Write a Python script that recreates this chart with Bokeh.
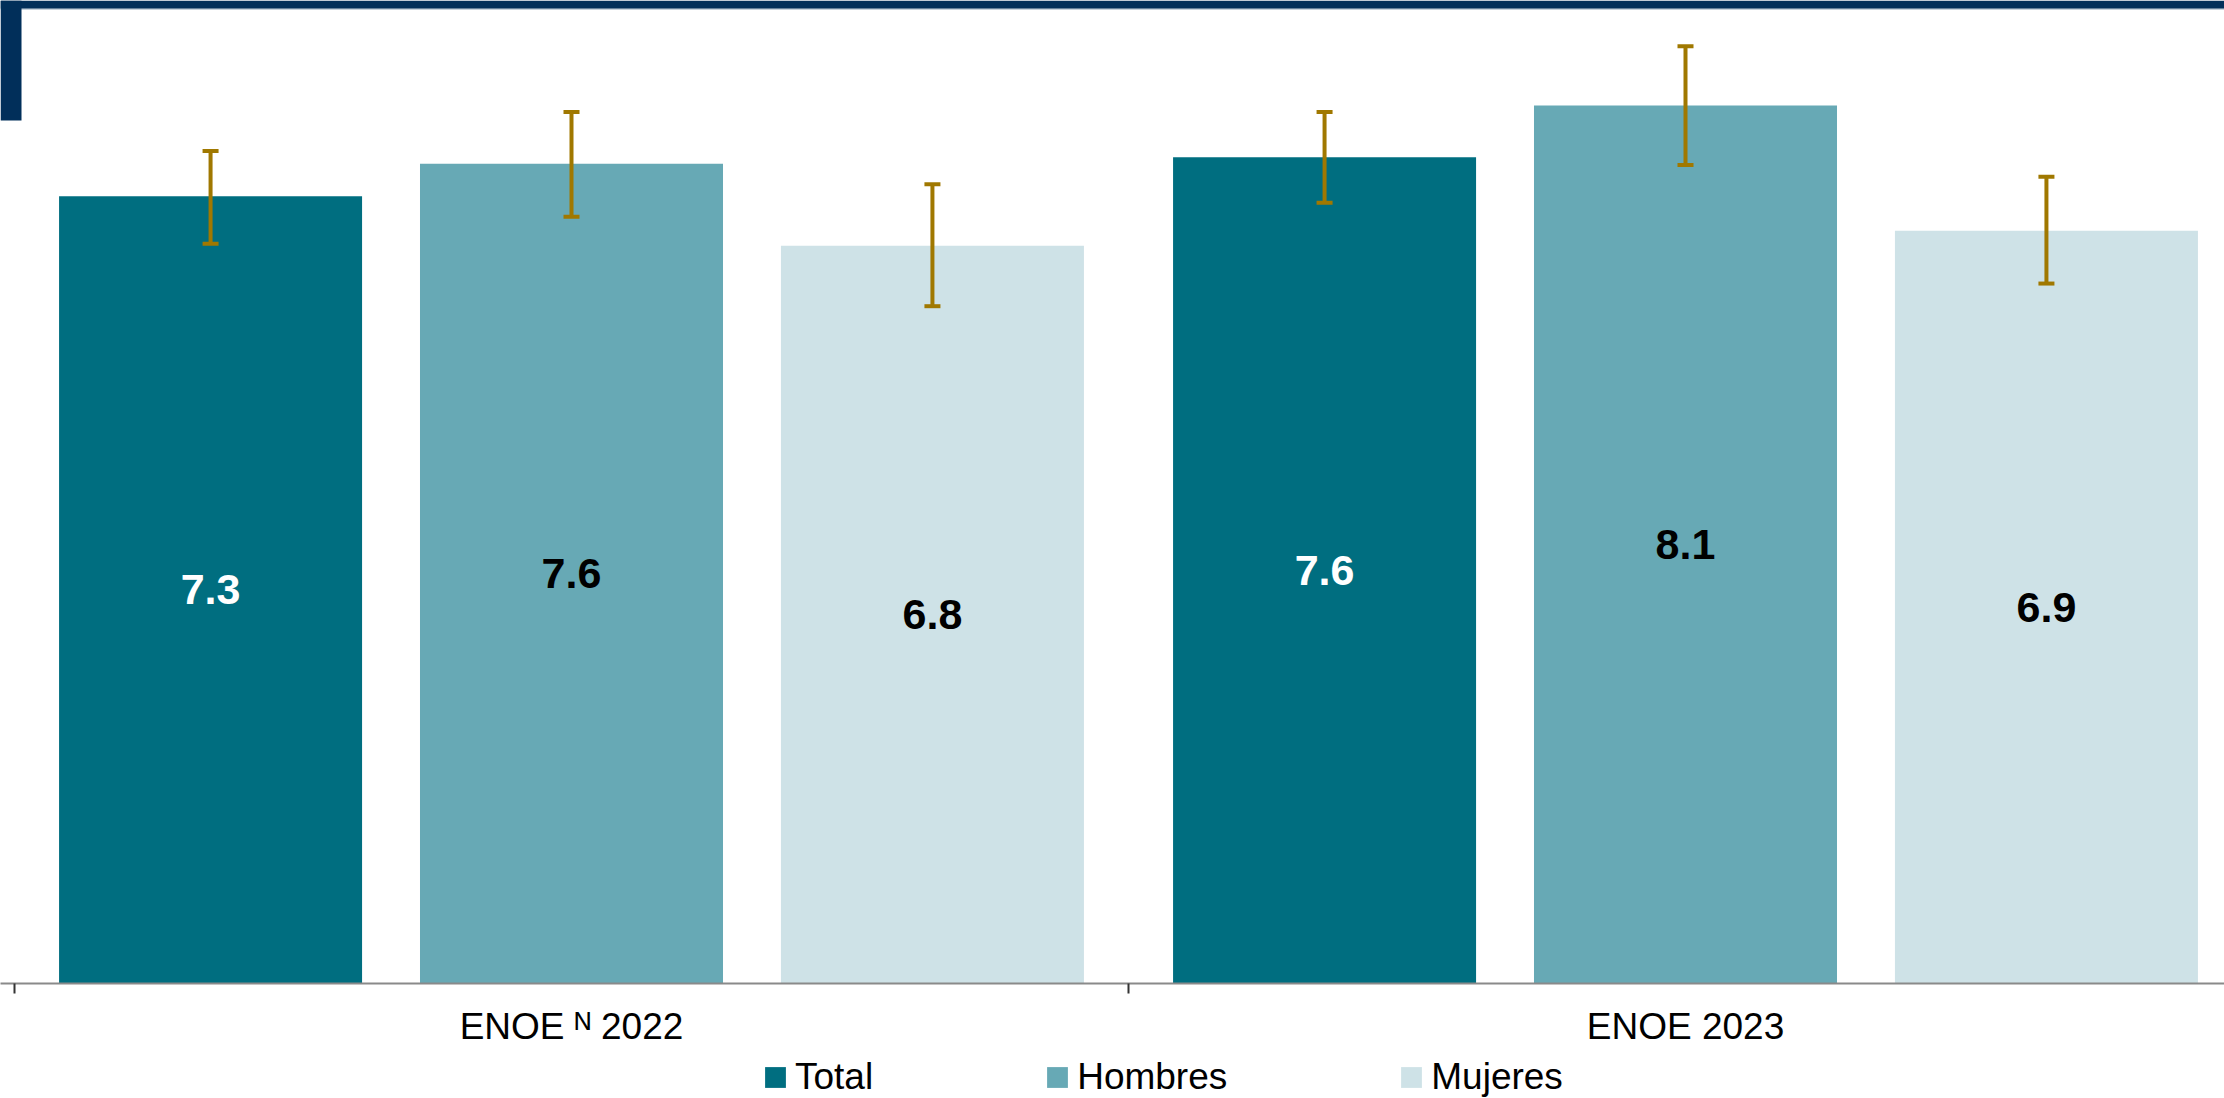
import numpy as np
from bokeh.plotting import figure
from bokeh.layouts import column
from bokeh.models import (ColumnDataSource, FixedTicker, Whisker, TeeHead, Legend,
                          LegendItem, BoxAnnotation, Range1d)
from bokeh.core.properties import value
from bokeh.embed import file_html
from bokeh.resources import INLINE

# ---- data ----
groups = ["ENOE ᴺ 2022", "ENOE 2023"]
series = ["Total", "Hombres", "Mujeres"]
total = [7.30, 7.66]
hombres = [7.60, 8.14]
mujeres = [6.84, 6.98]
total_labels = ["7.3", "7.6"]
hombres_labels = ["7.6", "8.1"]
mujeres_labels = ["6.8", "6.9"]
total_lo = [6.86, 7.24]
total_hi = [7.72, 8.08]
hombres_lo = [7.11, 7.59]
hombres_hi = [8.08, 8.69]
mujeres_lo = [6.28, 6.49]
mujeres_hi = [7.41, 7.48]

colors = ["#006E80", "#67A9B5", "#CEE2E7"]
label_colors = ["white", "black", "black"]
err_color = "#A07800"
navy = "#012F5A"

W, H = 2224, 1098
frame_bottom = 983
axis_panel = 66       # room for the category labels under the axis
H1 = frame_bottom + axis_panel   # main chart height; legend strip below
axis_x0 = 14          # pixel where the category axis starts
unit_px_x = 1114.0
unit_px_y = 107.85

p = figure(width=W, height=H1, output_backend="svg", toolbar_location=None,
           y_axis_location=None,
           x_range=Range1d(-axis_x0 / unit_px_x, (W - axis_x0) / unit_px_x),
           y_range=Range1d(0, frame_bottom / unit_px_y),
           min_border_left=0, min_border_right=0, min_border_top=0,
           min_border_bottom=axis_panel)
p.outline_line_color = None
p.xgrid.visible = False
p.ygrid.visible = False
p.background_fill_color = "white"
p.border_fill_color = "white"

idx = np.arange(len(groups)) + 0.5
offsets = [-0.324, 0.0, 0.324]
bar_w = 0.272

vals = [total, hombres, mujeres]
labs = [total_labels, hombres_labels, mujeres_labels]
los = [total_lo, hombres_lo, mujeres_lo]
his = [total_hi, hombres_hi, mujeres_hi]

sources = []
for s, v, lb, lo, hi, c, lc, off in zip(series, vals, labs, los, his, colors,
                                        label_colors, offsets):
    src = ColumnDataSource(dict(x=idx + off, top=v, mid=np.array(v) / 2.0,
                                lo=lo, hi=hi, lab=lb))
    sources.append(src)
    p.vbar(x="x", top="top", width=bar_w, source=src, fill_color=c, line_color=None)
    p.text(x="x", y="mid", text="lab", source=src, text_color=lc,
           text_font=value("Liberation Sans"), text_font_style="bold",
           text_font_size="43px", text_align="center", text_baseline="middle")
    w = Whisker(source=src, base="x", lower="lo", upper="hi", dimension="height",
                line_color=err_color, line_width=4, level="annotation",
                upper_head=TeeHead(size=16, line_color=err_color, line_width=4),
                lower_head=TeeHead(size=16, line_color=err_color, line_width=4))
    p.add_layout(w)

# x axis
ax = p.xaxis[0]
ax.ticker = FixedTicker(ticks=list(idx), minor_ticks=list(np.arange(len(groups) + 1)))
ax.major_label_overrides = {float(t): g for t, g in zip(idx, groups)}
ax.major_tick_out = 0
ax.major_tick_in = 0
ax.minor_tick_out = 10
ax.minor_tick_in = 0
ax.minor_tick_line_color = "#333333"
ax.minor_tick_line_width = 2
ax.axis_line_color = "#8A8A8A"
ax.axis_line_width = 2
ax.major_label_text_font = "Liberation Sans"
ax.major_label_text_font_size = "37px"
ax.major_label_text_color = "black"
ax.major_label_standoff = 12

# decorative navy frame pieces (screen units relative to frame)
def screen_box(left, right, bottom, top, color):
    return BoxAnnotation(left=left, right=right, bottom=bottom, top=top,
                         left_units="screen", right_units="screen",
                         top_units="screen", bottom_units="screen",
                         fill_color=color, fill_alpha=1, line_color=None)

p.add_layout(screen_box(0, W, frame_bottom - 9, frame_bottom - 8, "#8CA3B8"))
p.add_layout(screen_box(0, W, frame_bottom - 8, frame_bottom, navy))
p.add_layout(screen_box(0, 21, frame_bottom - 120, frame_bottom, navy))

# ---- legend strip ----
p2 = figure(width=W, height=H - H1, output_backend="svg", toolbar_location=None,
            x_axis_location=None, y_axis_location=None,
            x_range=Range1d(0, 1), y_range=Range1d(0, 1),
            min_border_left=0, min_border_right=0, min_border_top=0, min_border_bottom=0)
p2.outline_line_color = None
p2.xgrid.visible = False
p2.ygrid.visible = False
items = []
for s, c, src in zip(series, colors, sources):
    r = p2.vbar(x="x", top="top", width=bar_w, source=src, fill_color=c,
                line_color=None, visible=False)
    items.append(LegendItem(label=s, renderers=[r]))
legend = Legend(items=items, orientation="horizontal", location=(762, 0),
                glyph_width=26, glyph_height=26, label_standoff=7, spacing=171,
                padding=0, margin=0, border_line_color=None, background_fill_alpha=0,
                inactive_fill_alpha=0,
                label_text_font="Liberation Sans", label_text_font_size="37px",
                label_text_color="black")
p2.add_layout(legend, "center")

layout = column(p, p2, spacing=0)
open("out.html", "w").write(file_html(layout, INLINE))
